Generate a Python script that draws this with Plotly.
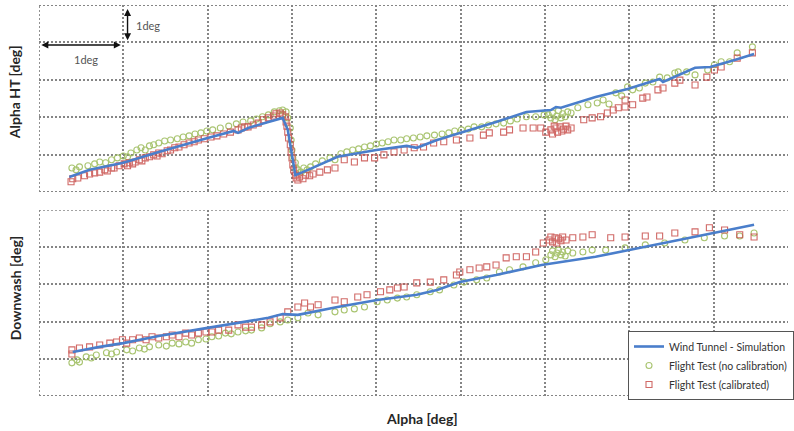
import plotly.graph_objects as go

# ---------------- data (deg, grid spacing = 1 deg) ----------------
# Top panel: Alpha HT
top_sim_x = [0.36,0.60,1.00,1.42,2.00,2.31,2.36,2.48,2.72,2.89,2.95,2.99,3.04,3.19,3.54,4.00,4.36,4.48,4.72,5.00,5.42,5.78,6.07,6.13,6.19,6.60,6.98,7.36,7.40,7.78,7.96,8.25,8.48]
top_sim_y = [0.40,0.59,0.78,1.07,1.44,1.63,1.58,1.71,1.87,1.98,1.66,1.12,0.45,0.59,0.94,1.12,1.23,1.18,1.39,1.58,1.87,2.14,2.19,2.27,2.25,2.54,2.75,3.02,2.94,3.32,3.34,3.53,3.69]

top_nocal_x = [0.39,0.44,0.48,0.58,0.66,0.72,0.79,0.86,0.93,1.00,1.05,1.09,1.16,1.21,1.26,1.31,1.36,1.42,1.49,1.56,1.64,1.71,1.78,1.85,1.92,1.99,2.06,2.15,2.25,2.34,2.42,2.51,2.58,2.65,2.72,2.79,2.85,2.89,2.93,
               2.95,2.98,2.99,3.00,3.01,3.04,3.05,3.07,3.11,3.14,3.18,3.22,
               3.28,3.36,3.45,3.51,3.58,3.65,3.72,3.79,3.86,3.93,4.00,4.07,4.14,4.21,4.29,4.36,4.44,4.52,4.60,4.69,4.78,4.86,4.93,5.01,5.09,5.16,5.25,5.33,5.42,5.51,5.59,5.67,5.78,5.89,5.99,
               6.04,6.07,6.09,6.12,6.14,6.16,6.19,6.21,6.24,6.27,6.31,
               6.39,6.51,6.62,6.69,6.76,6.84,6.91,6.98,7.04,7.12,7.19,7.28,7.36,7.45,7.54,7.58,7.68,7.78,7.93,8.01,8.09,8.19,8.28,8.46]
top_nocal_y = [0.64,0.59,0.67,0.70,0.75,0.80,0.78,0.86,0.91,0.96,0.94,1.04,1.12,1.18,1.12,1.23,1.26,1.31,1.36,1.39,1.42,1.47,1.50,1.55,1.58,1.63,1.66,1.71,1.76,1.82,1.87,1.90,1.95,2.01,2.06,2.14,2.17,2.19,2.14,
               1.98,1.71,1.39,1.12,0.91,0.78,0.64,0.59,0.53,0.64,0.59,0.67,
               0.75,0.83,0.91,0.86,1.02,1.07,1.12,1.15,1.20,1.23,1.28,1.31,1.34,1.39,1.39,1.42,1.44,1.47,1.50,1.52,1.55,1.58,1.63,1.66,1.68,1.74,1.74,1.79,1.82,1.84,1.90,1.95,2.01,2.01,2.06,
               2.06,1.98,2.11,1.93,2.03,2.17,1.98,2.09,2.01,2.14,2.11,
               2.25,2.33,2.38,2.46,2.35,2.65,2.57,2.81,2.73,2.78,2.91,2.94,3.07,3.05,3.18,3.21,3.21,3.13,3.26,3.40,3.48,3.48,3.72,3.88]

top_cal_x = [0.38,0.40,0.46,0.54,0.60,0.66,0.72,0.78,0.81,0.86,0.89,0.95,1.01,1.05,1.07,1.11,1.14,1.19,1.22,1.26,1.31,1.36,1.40,1.42,1.46,1.52,1.56,1.61,1.66,1.72,1.78,1.84,1.89,1.96,2.04,2.11,2.19,2.27,2.36,2.40,2.44,2.48,2.54,2.60,2.66,2.72,2.78,2.81,2.86,2.89,2.92,
             2.93,2.94,2.95,2.96,2.98,2.99,3.00,3.01,3.02,3.04,3.05,3.07,3.09,3.13,3.16,3.21,3.25,
             3.33,3.42,3.51,3.62,3.74,3.86,3.98,4.09,4.21,4.33,4.45,4.56,4.68,4.80,4.95,5.11,5.27,5.34,5.51,5.58,5.74,5.86,5.95,6.01,
             6.07,6.09,6.13,6.15,6.18,6.20,6.22,6.25,6.27,6.11,6.31,
             6.46,6.56,6.66,6.74,6.81,6.87,6.95,6.95,7.04,7.16,7.21,7.34,7.40,7.54,7.60,7.78,7.92,8.01,8.09,8.28,8.46]
top_cal_y = [0.27,0.35,0.37,0.43,0.48,0.51,0.53,0.59,0.56,0.64,0.64,0.70,0.75,0.70,0.78,0.75,0.80,0.86,0.83,0.91,0.94,0.99,0.96,1.04,1.02,1.10,1.12,1.18,1.20,1.26,1.31,1.34,1.39,1.42,1.47,1.50,1.55,1.60,1.66,1.71,1.74,1.74,1.79,1.84,1.93,1.98,2.03,2.09,2.11,2.06,2.01,
             1.87,1.76,1.60,1.44,1.26,1.07,0.91,0.72,0.59,0.45,0.37,0.32,0.40,0.35,0.45,0.43,0.48,
             0.53,0.59,0.64,0.86,0.80,0.91,0.91,0.99,1.07,1.12,1.18,1.20,1.31,1.34,1.39,1.44,1.52,1.58,1.60,1.66,1.71,1.71,1.71,1.60,
             1.66,1.55,1.71,1.60,1.74,1.63,1.68,1.76,1.66,1.76,1.71,
             1.93,1.98,2.01,2.11,2.19,2.25,2.27,2.46,2.33,2.51,2.54,2.73,2.78,2.91,2.99,2.86,3.07,3.26,3.34,3.58,3.72]

# Bottom panel: Downwash
bot_sim_x = [0.40,0.72,1.00,1.42,2.00,2.36,2.72,2.89,3.07,3.54,4.01,4.48,4.72,4.99,5.42,5.96,6.60,7.19,7.78,8.13,8.48]
bot_sim_y = [1.18,1.32,1.42,1.61,1.83,1.96,2.10,2.20,2.18,2.39,2.58,2.72,2.85,3.06,3.25,3.52,3.74,4.01,4.27,4.44,4.60]

bot_nocal_x = [0.39,0.45,0.48,0.56,0.62,0.68,0.80,0.86,0.92,1.04,1.11,1.19,1.25,1.31,1.42,1.51,1.58,1.66,1.74,1.81,1.89,1.98,2.05,2.13,2.21,2.28,2.36,2.45,2.52,2.64,2.74,2.86,2.95,
               3.07,3.19,3.31,3.51,3.62,3.74,3.86,4.01,4.13,4.25,4.36,4.48,4.64,4.75,4.92,5.04,5.19,5.31,5.46,5.58,5.74,5.89,6.01,
               6.07,6.09,6.12,6.14,6.16,6.19,6.21,6.24,6.27,
               6.33,6.45,6.56,6.72,6.95,7.19,7.42,7.66,7.89,8.13,8.31,8.48]
bot_nocal_y = [0.89,0.97,0.91,1.05,1.02,1.10,1.16,1.13,1.18,1.24,1.21,1.29,1.26,1.32,1.37,1.34,1.42,1.40,1.45,1.42,1.51,1.53,1.59,1.61,1.69,1.67,1.72,1.75,1.77,1.83,1.94,1.99,2.04,
               2.10,2.23,2.18,2.26,2.31,2.34,2.39,2.53,2.58,2.63,2.66,2.72,2.80,2.85,2.98,3.06,3.12,3.17,3.33,3.39,3.47,3.58,3.66,
               3.79,3.90,3.74,3.84,3.92,3.79,3.87,3.76,3.90,
               3.84,3.87,3.92,3.92,3.98,4.06,4.11,4.19,4.25,4.30,4.30,4.38]

bot_cal_x = [0.39,0.39,0.48,0.60,0.72,0.84,0.92,0.99,1.04,1.11,1.19,1.27,1.34,1.42,1.51,1.58,1.66,1.74,1.81,1.89,1.98,2.05,2.13,2.25,2.36,2.45,2.52,2.64,2.74,2.86,2.95,
             3.07,3.15,3.22,3.31,3.51,3.62,3.78,3.89,4.05,4.16,4.25,4.33,4.48,4.64,4.80,4.95,4.99,5.11,5.22,5.31,5.42,5.54,5.66,5.78,5.89,5.98,
             6.05,6.07,6.09,6.12,6.14,6.16,6.19,6.21,6.25,
             6.33,6.45,6.56,6.78,6.95,7.19,7.36,7.54,7.78,7.95,8.13,8.31,8.48]
bot_cal_y = [1.24,1.13,1.29,1.32,1.37,1.42,1.45,1.51,1.42,1.51,1.56,1.51,1.59,1.56,1.59,1.64,1.59,1.69,1.64,1.69,1.72,1.72,1.77,1.77,1.91,1.85,1.85,1.91,1.99,2.10,2.26,
             2.39,2.50,2.39,2.45,2.58,2.53,2.66,2.72,2.80,2.85,2.90,2.93,3.04,3.06,3.12,3.25,3.33,3.39,3.44,3.47,3.52,3.71,3.74,3.74,3.87,4.11,
             4.19,4.27,4.14,4.25,4.11,4.22,4.17,4.27,4.19,
             4.25,4.27,4.33,4.25,4.27,4.30,4.30,4.38,4.41,4.52,4.46,4.33,4.27]

series_names = ["Wind Tunnel - Simulation", "Flight Test (no calibration)", "Flight Test (calibrated)"]
y_titles = ["Alpha HT [deg]", "Downwash [deg]"]
x_title = "Alpha [deg]"
scale_label = "1deg"

# ---------------- styles ----------------
BLUE = "#4a7ecb"
GREEN = "#9bbb59"
RED = "#c9504d"
GRID = "#858585"
GDASH = "2px,2px"
GW = 1.8
FONT = "Lato"

fig = go.Figure()

def add_panel(sx, sy, gx, gy, rx, ry, xa, ya, show):
    fig.add_trace(go.Scatter(x=gx, y=gy, mode="markers", name=series_names[1], legendrank=2,
                             xaxis=xa, yaxis=ya, showlegend=show,
                             marker=dict(symbol="circle-open", size=6, color=GREEN, line=dict(width=1.1)),
                             opacity=0.85))
    fig.add_trace(go.Scatter(x=rx, y=ry, mode="markers", name=series_names[2], legendrank=3,
                             xaxis=xa, yaxis=ya, showlegend=show,
                             marker=dict(symbol="square-open", size=6, color=RED, line=dict(width=1.1)),
                             opacity=0.85))
    fig.add_trace(go.Scatter(x=sx, y=sy, mode="lines", name=series_names[0], legendrank=1,
                             xaxis=xa, yaxis=ya, showlegend=show,
                             line=dict(color=BLUE, width=2.6)))

add_panel(top_sim_x, top_sim_y, top_nocal_x, top_nocal_y, top_cal_x, top_cal_y, "x", "y", True)
add_panel(bot_sim_x, bot_sim_y, bot_nocal_x, bot_nocal_y, bot_cal_x, bot_cal_y, "x2", "y2", False)

XR = [0, 755 / 85]
axis_common = dict(showticklabels=False, ticks="", showgrid=True, gridcolor=GRID, gridwidth=GW,
                   griddash=GDASH, zeroline=False, showline=False, dtick=1, tick0=0)

fig.update_layout(
    width=794, height=431,
    margin=dict(l=39, r=0, t=5, b=35),
    paper_bgcolor="white", plot_bgcolor="white",
    font=dict(family=FONT, color="#404040"),
    xaxis=dict(domain=[0, 1], range=XR, anchor="y", **axis_common),
    yaxis=dict(domain=[0.522, 1], range=[0, 5], anchor="x", **axis_common),
    xaxis2=dict(domain=[0, 1], range=XR, anchor="y2", **axis_common),
    yaxis2=dict(domain=[0, 0.476], range=[0, 5], anchor="x2", **axis_common),
    legend=dict(x=(633 - 39) / 755, y=1 - (331 - 5) / 391, xanchor="left", yanchor="top",
                bgcolor="white", bordercolor="#555555", borderwidth=1,
                font=dict(family=FONT, size=10.5, color="#333333"),
                tracegroupgap=0, itemwidth=30),
    showlegend=True,
)

# outer dotted borders (left, top, bottom) for both panels
for xr, yr in (("x", "y"), ("x2", "y2")):
    fig.add_shape(type="line", xref=xr, yref=yr, x0=0, x1=0, y0=0, y1=5,
                  line=dict(color=GRID, width=GW, dash=GDASH))
    fig.add_shape(type="line", xref=xr, yref=yr, x0=0, x1=XR[1], y0=5, y1=5,
                  line=dict(color=GRID, width=GW, dash=GDASH))
    fig.add_shape(type="line", xref=xr, yref=yr, x0=0, x1=XR[1], y0=0, y1=0,
                  line=dict(color=GRID, width=GW, dash=GDASH))

# scale arrows
fig.add_annotation(x=1.05, y=4.06, ax=1.05, ay=4.93, xref="x", yref="y", axref="x", ayref="y",
                   text="", showarrow=True, arrowhead=2, arrowside="end+start",
                   arrowsize=1, arrowwidth=1.4, arrowcolor="#111111")
fig.add_annotation(x=0.97, y=3.93, ax=0.01, ay=3.93, xref="x", yref="y", axref="x", ayref="y",
                   text="", showarrow=True, arrowhead=2, arrowside="end+start",
                   arrowsize=1, arrowwidth=1.4, arrowcolor="#111111")
fig.add_annotation(x=1.13, y=4.44, xref="x", yref="y", text=scale_label, showarrow=False,
                   xanchor="left", yanchor="middle", font=dict(family=FONT, size=11, color="#555555"))
fig.add_annotation(x=0.56, y=3.53, xref="x", yref="y", text=scale_label, showarrow=False,
                   xanchor="center", yanchor="middle", font=dict(family=FONT, size=11, color="#555555"))

# axis titles
fig.add_annotation(x=(15 - 39) / 755, y=1 - (92 - 5) / 391, xref="paper", yref="paper",
                   xanchor="center", yanchor="middle",
                   text="<b>" + y_titles[0] + "</b>", textangle=-90, showarrow=False,
                   font=dict(family=FONT, size=14, color="#262626"))
fig.add_annotation(x=(15 - 39) / 755, y=1 - (288 - 5) / 391, xref="paper", yref="paper",
                   xanchor="center", yanchor="middle",
                   text="<b>" + y_titles[1] + "</b>", textangle=-90, showarrow=False,
                   font=dict(family=FONT, size=14, color="#262626"))
fig.add_annotation(x=(425 - 39) / 755, y=1 - (418 - 5) / 391, xref="paper", yref="paper",
                   xanchor="center", yanchor="middle",
                   text="<b>" + x_title + "</b>", showarrow=False,
                   font=dict(family=FONT, size=14, color="#262626"))

fig.write_html("out.html")
